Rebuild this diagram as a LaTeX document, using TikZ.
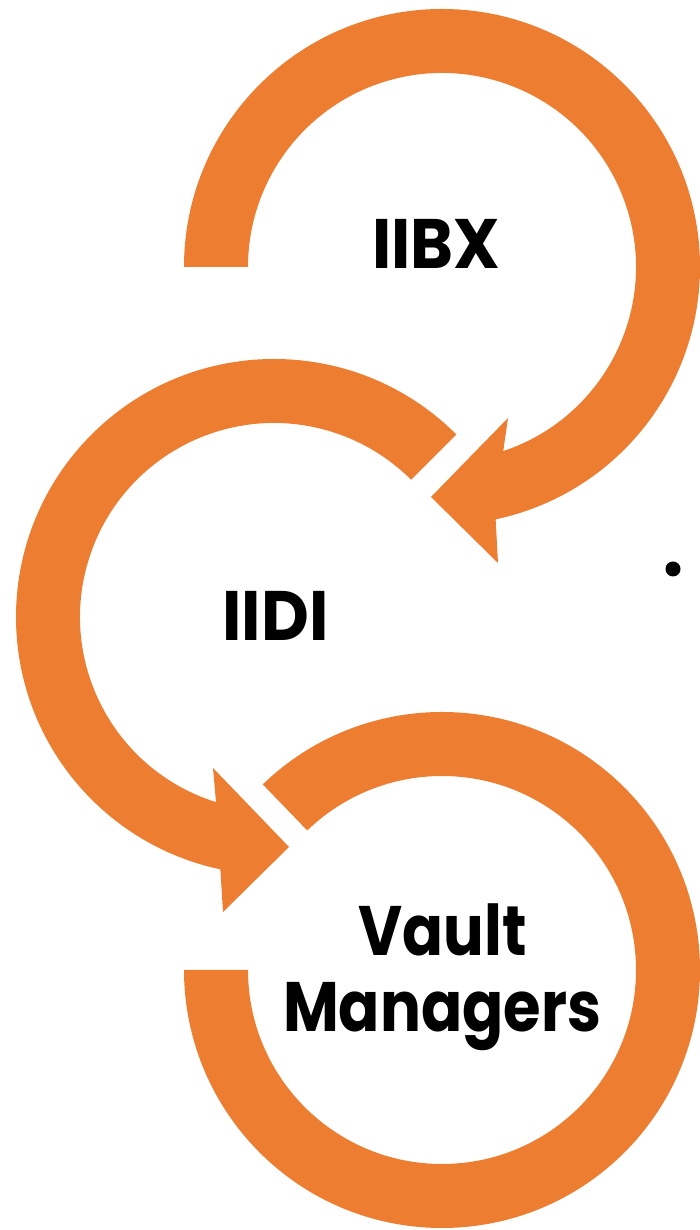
\documentclass[tikz,border=0pt]{standalone}
\usepackage{fontspec}
\setmainfont{Poppins}
\usetikzlibrary{calc}
\definecolor{cyclorange}{HTML}{ED7D31}
% set a label to a given width, keeping its height
\newcommand{\fitw}[2]{\resizebox{#1}{\height}{#2}}
\begin{document}
\begin{tikzpicture}[x=1pt,y=1pt,
  ring/.style={fill=cyclorange,draw=none},
  label/.style={font=\fontsize{70}{76}\selectfont\bfseries,inner sep=0pt,anchor=base,text=black}]
\useasboundingbox (0,0) rectangle (699,1230);
% ring centres
\coordinate (c1) at (442,963);
\coordinate (c2) at (274,613);
\coordinate (c3) at (442,260);
% top ring: clockwise from the left, arrow head pointing into the middle ring
\fill[ring] ($(c1)+(180:258)$) arc[start angle=180,end angle=-78,radius=258]
  -- (498,667) -- (431,733) -- (508,812)
  -- ($(c1)+(-71.6:194)$) arc[start angle=-71.6,end angle=180,radius=194] -- cycle;
% middle ring: counter-clockwise, arrow head pointing into the bottom ring
\fill[ring] ($(c2)+(45:258)$) arc[start angle=45,end angle=258,radius=258]
  -- (223,318) -- (289,383) -- (213,462)
  -- ($(c2)+(252.6:194)$) arc[start angle=252.6,end angle=45,radius=194] -- cycle;
% bottom ring: clockwise, ending flat on the left
\fill[ring] ($(c3)+(134:258)$) arc[start angle=134,end angle=-180,radius=258]
  -- ($(c3)+(180:194)$) arc[start angle=-180,end angle=134,radius=194] -- cycle;
% labels
\node[label] (iibx) at (436.5,961) {\fitw{128pt}{IIBX}};
\node[label] (iidi) at (275.5,589) {\fitw{106pt}{IIDI}};
\node[label] (vault) at (442.5,274) {\fitw{168pt}{Vault}};
\node[label] (managers) at (442,198) {\fitw{318pt}{Managers}};
% bullet
\node[circle,fill=black,inner sep=0pt,minimum size=15pt] (dot) at (673,661) {};
\end{tikzpicture}
\end{document}
